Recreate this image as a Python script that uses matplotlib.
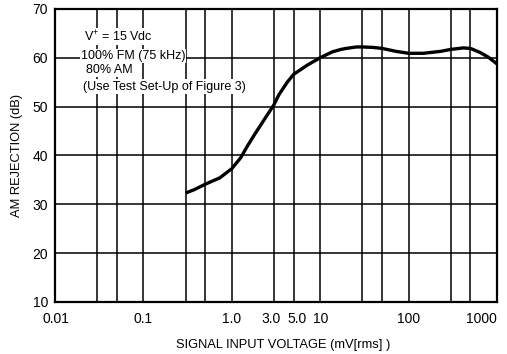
import matplotlib
matplotlib.use('Agg')
import matplotlib.pyplot as plt
from matplotlib.transforms import ScaledTranslation

# Curve (signal input in mV rms, rejection in dB)
signal_mv = [0.3, 0.377, 0.5, 0.73, 1.0, 1.256, 1.51, 1.81, 2.28, 3.0, 3.4, 4.24,
             5.0, 7.16, 10, 13.7, 17.2, 19.6, 25.7, 30, 39.8, 50, 71.8, 100, 146.7,
             229.6, 300, 414, 500, 637, 797, 1000]
rejection_db = [32.3, 33.0, 34.1, 35.4, 37.3, 39.5, 42.0, 44.3, 47.1, 50.4, 52.4, 55.0,
                56.6, 58.5, 60.0, 61.2, 61.7, 61.9, 62.2, 62.2, 62.1, 61.9, 61.3, 60.9, 60.9,
                61.3, 61.7, 62.0, 61.9, 61.1, 60.1, 58.7]

x_ticks = [0.01, 0.1, 1.0, 3.0, 5.0, 10, 100, 1000]
x_tick_labels = ['0.01', '0.1', '1.0', '3.0', '5.0', '10', '100', '1000']
x_grid = [0.03, 0.05, 0.1, 0.3, 0.5, 1.0, 3.0, 5.0, 10, 30, 50, 100, 300, 500]
y_ticks = [10, 20, 30, 40, 50, 60, 70]

notes = ['V$^{+}$ = 15 Vdc', '100% FM (75 kHz)', '80% AM', '(Use Test Set-Up of Figure 3)']
note_x = [0.0215, 0.0195, 0.0225, 0.0207]
note_y = [64.3, 60.3, 57.5, 54.1]

plt.rcParams['font.family'] = ['Liberation Sans', 'DejaVu Sans']
plt.rcParams['mathtext.fontset'] = 'custom'
plt.rcParams['mathtext.rm'] = 'Liberation Sans'

fig = plt.figure(figsize=(5.07, 3.54), dpi=100)
ax = fig.add_axes([0.1085, 0.147, 0.872, 0.828])

ax.set_xscale('log')
ax.set_xlim(0.01, 1000)
ax.set_ylim(10, 70)

# grid only at the printed values
for xv in x_grid:
    ax.axvline(xv, color='black', lw=1.1, zorder=1)
for yv in y_ticks[1:-1]:
    ax.axhline(yv, color='black', lw=1.1, zorder=1)

ax.plot(signal_mv, rejection_db, color='black', lw=2.4, zorder=3,
        solid_joinstyle='round', solid_capstyle='butt')

ax.set_xticks(x_ticks)
ax.set_xticklabels(x_tick_labels)
ax.xaxis.set_minor_locator(matplotlib.ticker.NullLocator())
ax.set_yticks(y_ticks)
ax.tick_params(axis='both', length=0, labelsize=10)
ax.tick_params(axis='x', pad=7)
ax.tick_params(axis='y', pad=5)

# nudge crowded labels apart, like the printed chart
labels = ax.get_xticklabels()
labels[-1].set_ha('right')
for lab, dx in zip(labels, [1, 0, 0, -2, 2.5, 0, 0, 0]):
    if dx:
        lab.set_transform(lab.get_transform() + ScaledTranslation(dx / 72, 0, fig.dpi_scale_trans))

for s in ax.spines.values():
    s.set_linewidth(1.6)

ax.set_xlabel('SIGNAL INPUT VOLTAGE (mV[rms] )', fontsize=9.3, labelpad=10)
ax.xaxis.set_label_coords(0.515, -0.125)
ax.set_ylabel('AM REJECTION (dB)', fontsize=9.3, labelpad=7)

box = dict(facecolor='white', edgecolor='none', pad=0.8)
for txt, xx, yy in zip(notes, note_x, note_y):
    ax.text(xx, yy, txt, fontsize=9, va='center', bbox=box, zorder=2)

fig.savefig('out.png', dpi=100)
